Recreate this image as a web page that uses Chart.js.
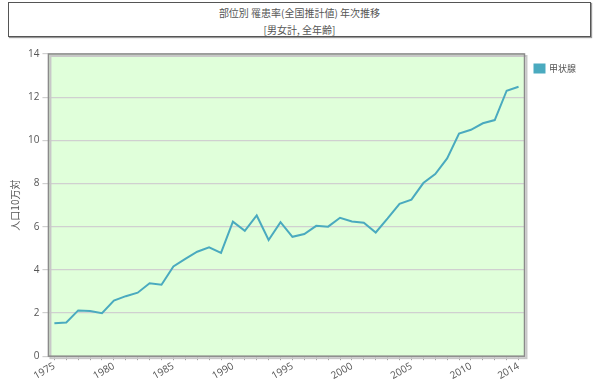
<!DOCTYPE html>
<html><head><meta charset="utf-8">
<script src="https://cdn.jsdelivr.net/npm/chart.js@4/dist/chart.umd.min.js"></script>
<style>
html,body{margin:0;padding:0;background:#fff;}
#wrap{position:relative;width:600px;height:384px;}
#tbox{position:absolute;left:8px;top:2px;width:583px;height:35px;border:1px solid #555;box-shadow:1px 1px 1px #999;font-family:"Noto Sans CJK JP","Noto Sans",sans-serif;font-size:10px;color:#555;text-align:center;line-height:17px;padding-top:1px;box-sizing:border-box;}
canvas{position:absolute;left:0;top:0;}
</style></head><body>
<div id="wrap">
<div id="tbox"><div>部位別 罹患率(全国推計値) 年次推移</div><div>[男女計, 全年齢]</div></div>
<canvas id="c" width="600" height="384"></canvas>
</div>
<script>
const years = [];
for (let y = 1975; y <= 2014; y++) years.push(String(y));
const shownYears = ['1975','1980','1985','1990','1995','2000','2005','2010','2014'];
const thyroid = [1.52,1.56,2.12,2.09,1.99,2.58,2.78,2.94,3.38,3.31,4.16,4.51,4.84,5.04,4.79,6.23,5.81,6.52,5.38,6.21,5.53,5.66,6.04,6.00,6.41,6.24,6.18,5.73,6.38,7.06,7.25,8.02,8.44,9.16,10.31,10.49,10.79,10.94,12.30,12.48];
const seriesName = '甲状腺';
const yTitle = '人口10万対';

const bgPlugin = {
  id:'bg',
  beforeDraw(chart){
    const {ctx, chartArea:a} = chart;
    ctx.save();
    ctx.fillStyle = '#e0ffda';
    ctx.fillRect(a.left, a.top, a.right-a.left, a.bottom-a.top);
    ctx.restore();
  },
  afterDatasetsDraw(chart){
    const {ctx, chartArea:a} = chart;
    ctx.save();
    ctx.strokeStyle = '#c8c8c8';
    ctx.lineWidth = 2;
    ctx.strokeRect(a.left+2, a.top+2, a.right-a.left, a.bottom-a.top);
    ctx.strokeStyle = '#8a8a8a';
    ctx.lineWidth = 1.5;
    ctx.strokeRect(a.left, a.top, a.right-a.left, a.bottom-a.top);
    ctx.restore();
  }
};

new Chart(document.getElementById('c'), {
  type:'line',
  data:{labels:years, datasets:[{label:seriesName, data:thyroid, borderColor:'#4aaabf', backgroundColor:'#4aaabf', borderWidth:2, pointRadius:0, tension:0}]},
  options:{
    responsive:false, animation:false,
    layout:{padding:{top:54, right:14, left:5, bottom:2}},
    plugins:{
      legend:{position:'right', align:'start', labels:{boxWidth:10, boxHeight:8, color:'#555', font:{family:'"Noto Sans CJK JP"', size:9}, padding:10}},
      tooltip:{enabled:false}
    },
    scales:{
      x:{
        offset:true,
        grid:{drawOnChartArea:false, offset:false, color:'#999', tickLength:4},
        border:{display:false},
        ticks:{autoSkip:false, minRotation:30, maxRotation:30, color:'#555', font:{family:'"Open Sans"', size:10}, padding:0,
          callback:function(v){const l=this.getLabelForValue(v);return shownYears.includes(l)?l:'';}}
      },
      y:{
        min:0, max:14,
        grid:{color:'#d0d0d0', tickLength:6, lineWidth:1.2},
        border:{display:false},
        title:{display:true, text:yTitle, color:'#555', font:{family:'"Noto Sans CJK JP"', size:10}},
        ticks:{stepSize:2, color:'#555', font:{family:'"Open Sans"', size:10}}
      }
    }
  },
  plugins:[bgPlugin]
});
</script>
</body></html>
